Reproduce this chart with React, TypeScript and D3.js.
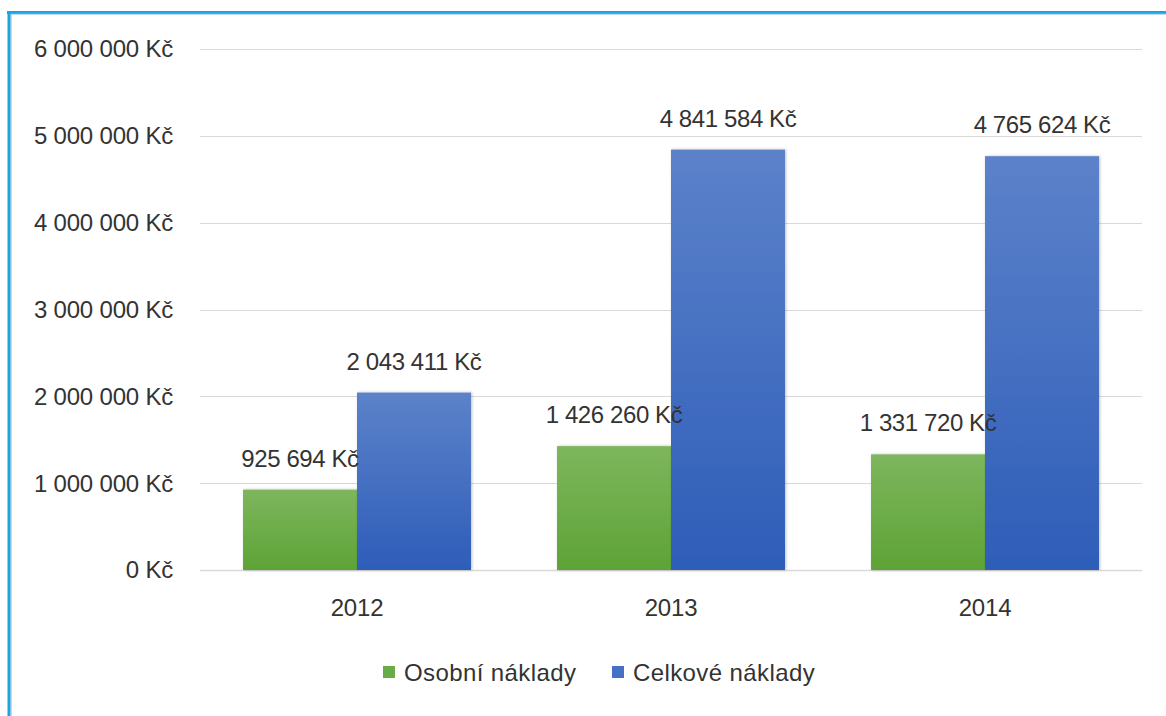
import React from "react";
import * as d3 from "d3";

const years = ["2012", "2013", "2014"];
const seriesNames = ["Osobní náklady", "Celkové náklady"];
const osobni = [925694, 1426260, 1331720];
const celkove = [2043411, 4841584, 4765624];
const yTicks = [0, 1000000, 2000000, 3000000, 4000000, 5000000, 6000000];

const W = 1166;
const H = 716;
const FONT = "'Liberation Sans', sans-serif";
const FS = 24;

const fmt = (v: number) => {
  const s = Math.round(v).toString().replace(/\B(?=(\d{3})+(?!\d))/g, " ");
  return s + " Kč";
};

export default function App() {
  const x = d3.scaleBand<string>().domain(years).range([200, 1142]).paddingInner(0.274).paddingOuter(0.137);
  const sub = d3.scaleBand<string>().domain(seriesNames).range([0, x.bandwidth()]);
  const y = d3.scaleLinear().domain([0, 6000000]).range([570, 49]);
  const series = [osobni, celkove];
  const fills = ["url(#gGreen)", "url(#gBlue)"];
  return (
    <svg width={W} height={H} style={{ position: "absolute", left: 0, top: 0, background: "#fff" }}>
      <defs>
        <linearGradient id="gGreen" x1="0" y1="0" x2="0" y2="1">
          <stop offset="0" stopColor="#7db65d" />
          <stop offset="1" stopColor="#5ea336" />
        </linearGradient>
        <linearGradient id="gBlue" x1="0" y1="0" x2="0" y2="1">
          <stop offset="0" stopColor="#5c82ca" />
          <stop offset="1" stopColor="#2e5db8" />
        </linearGradient>
        <filter id="sh" x="-10%" y="-10%" width="130%" height="130%">
          <feDropShadow dx="1" dy="0" stdDeviation="1.5" floodColor="#000" floodOpacity="0.25" />
        </filter>
      </defs>
      <rect x={0} y={0} width={W} height={H} fill="#fff" />
      <line x1={7} y1={12.5} x2={W} y2={12.5} stroke="#1aa5e0" strokeWidth={3} />
      <line x1={9} y1={11} x2={9} y2={H} stroke="#1aa5e0" strokeWidth={3} />
      <line x1={11} y1={14} x2={W} y2={14} stroke="#7fb6e6" strokeWidth={1} />
      <line x1={11} y1={14} x2={11} y2={H} stroke="#7fb6e6" strokeWidth={1} />
      {yTicks.map((t) => (
        <g key={t}>
          <line x1={200} x2={1142} y1={Math.round(y(t)) + 0.5} y2={Math.round(y(t)) + 0.5} stroke="#d9d9d9" strokeWidth={t === 0 ? 1.5 : 1} />
          <text x={173} y={y(t)} dy="0.35em" textAnchor="end" fontFamily={FONT} fontSize={FS} letterSpacing={-0.2} fill="#333">
            {fmt(t)}
          </text>
        </g>
      ))}
      {years.map((yr, i) => (
        <g key={yr}>
          {seriesNames.map((s, k) => {
            const v = series[k][i];
            const bx = (x(yr) as number) + (sub(s) as number);
            return (
              <rect key={s} x={bx} y={y(v)} width={sub.bandwidth()} height={y(0) - y(v)} fill={fills[k]} filter="url(#sh)" />
            );
          })}
          {seriesNames.map((s, k) => {
            const v = series[k][i];
            const bx = (x(yr) as number) + (sub(s) as number) + sub.bandwidth() / 2;
            return (
              <text key={s} x={bx} y={y(v) - 23} textAnchor="middle" fontFamily={FONT} fontSize={FS} letterSpacing={-0.4} fill="#333">
                {fmt(v)}
              </text>
            );
          })}
          <text x={(x(yr) as number) + x.bandwidth() / 2} y={608} dy="0.35em" textAnchor="middle" fontFamily={FONT} fontSize={FS} letterSpacing={-0.2} fill="#333">
            {yr}
          </text>
        </g>
      ))}
      {seriesNames.map((s, k) => {
        const lx = [383, 612][k];
        return (
          <g key={s}>
            <rect x={lx} y={666} width={12} height={12} fill={k === 0 ? "#6aab47" : "#4471c4"} />
            <text x={lx + 21} y={673} dy="0.35em" fontFamily={FONT} fontSize={FS} letterSpacing={0.4} fill="#333">
              {s}
            </text>
          </g>
        );
      })}
    </svg>
  );
}
